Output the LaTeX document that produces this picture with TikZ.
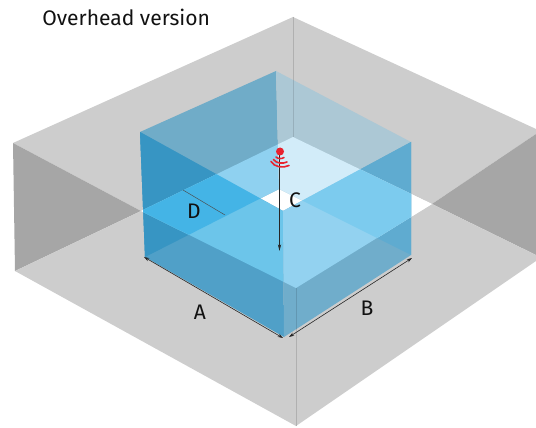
\documentclass[tikz,border=0pt]{standalone}
\usepackage{fontspec}
\setmainfont{Fira Sans}
\usetikzlibrary{arrows.meta}
\definecolor{wallgray}{HTML}{CDCDCD}
\definecolor{walldark}{HTML}{A6A6A6}
\definecolor{cornergray}{HTML}{B0B0B0}
\definecolor{sigred}{HTML}{E8222E}
\definecolor{inktext}{HTML}{111111}
% cube colours over the grey walls
\definecolor{gBL}{HTML}{70ACC8}
\definecolor{gBR}{HTML}{ACC8D5}
\definecolor{gFL}{HTML}{50A0C8}
\definecolor{gFR}{HTML}{70ADCB}
\definecolor{gBLFL}{HTML}{3795C3}
\definecolor{gBRFR}{HTML}{5FABD0}
% cube colours over the white floor
\definecolor{wBL}{HTML}{8FD1F0}
\definecolor{wBR}{HTML}{D2ECF9}
\definecolor{wFL}{HTML}{6CC5EA}
\definecolor{wFR}{HTML}{93D2F0}
\definecolor{wBLFL}{HTML}{44B4E6}
\definecolor{wBRFR}{HTML}{7CCBEE}
\tikzset{
  x=0.75pt,y=-0.75pt,
  lab/.style={font=\fontsize{15.8}{18}\selectfont,text=inktext,inner sep=0pt},
  dim/.style={draw=black!85,line width=0.45pt,{Stealth[length=4pt,width=2.6pt]}-{Stealth[length=4pt,width=2.6pt]}},
  drop/.style={draw=black!85,line width=0.5pt,-{Stealth[length=5pt,width=2.4pt]}},
  wave/.style={draw=sigred,line width=1.2pt,line cap=round}
}
\newcommand{\faceBL}{(tl) -- (tb) -- (bb) -- (bl) -- cycle}
\newcommand{\faceBR}{(tb) -- (tr) -- (br) -- (bb) -- cycle}
\newcommand{\faceFL}{(tl) -- (tf) -- (bf) -- (bl) -- cycle}
\newcommand{\faceFR}{(tf) -- (tr) -- (br) -- (bf) -- cycle}
\newcommand{\paintcube}[1]{%
  \fill[#1BL] \faceBL;
  \fill[#1BR] \faceBR;
  \fill[#1FL] \faceFL;
  \fill[#1FR] \faceFR;
  \begin{scope}\clip \faceFL; \fill[#1BLFL] \faceBL;\end{scope}
  \begin{scope}\clip \faceFR; \fill[#1BRFR] \faceBR;\end{scope}
}
\begin{document}
\begin{tikzpicture}
\useasboundingbox (0,0) rectangle (536,428);
\clip (0,0) rectangle (536,428);
% room
\coordinate (rt) at (293,17);
\coordinate (rl) at (13,143);
\coordinate (rll) at (15,271);
\coordinate (rb) at (296,426);
\coordinate (rr) at (536,129);
\coordinate (rd) at (536,134);
\coordinate (rdl) at (536,255);
\coordinate (rrl) at (536,261);
\coordinate (fb) at (293,137);
\coordinate (fl) at (141,211);
\coordinate (ff) at (296,288);
\coordinate (fr) at (432,204);
% cube corners
\coordinate (tb) at (276,71);
\coordinate (tl) at (140,132);
\coordinate (tr) at (411,142);
\coordinate (tf) at (283,211);
\coordinate (bb) at (279,189);
\coordinate (bl) at (145,257);
\coordinate (br) at (411,255);
\coordinate (bf) at (284,337);
\fill[wallgray] (rt) -- (rl) -- (fl) -- (fb) -- cycle;
\fill[wallgray] (rt) -- (rr) -- (rd) -- (fr) -- (fb) -- cycle;
\fill[walldark] (rl) -- (rll) -- (fl) -- cycle;
\fill[walldark] (rd) -- (rdl) -- (fr) -- cycle;
\fill[wallgray] (rll) -- (fl) -- (ff) -- (rb) -- cycle;
\fill[wallgray] (rb) -- (ff) -- (fr) -- (rdl) -- (rrl) -- cycle;
\fill[white] (fb) -- (fl) -- (ff) -- (fr) -- cycle;
\draw[cornergray,line width=0.75pt] (rt) -- (fb);
\draw[cornergray,line width=0.75pt] (ff) -- (rb);
% cube over the walls, then over the floor
\paintcube{g}
\begin{scope}
  \clip (fb) -- (fl) -- (ff) -- (fr) -- cycle;
  \paintcube{w}
\end{scope}
% room corners seen through the cube
\begin{scope}
  \clip \faceBR;
  \draw[black,opacity=0.12,line width=0.75pt] (rt) -- (fb);
\end{scope}
\begin{scope}
  \clip \faceFR;
  \draw[black,opacity=0.12,line width=0.75pt] (ff) -- (rb);
\end{scope}
% dimensions
\coordinate (aa) at (144,257);
\coordinate (ab) at (283,338);
\coordinate (ba) at (289,337);
\coordinate (bc) at (412,258);
\draw[dim] (aa) -- (ab);
\draw[dim] (ba) -- (bc);
\coordinate (da) at (183,190);
\coordinate (db) at (225,215);
\draw[black!70,line width=0.35pt] (da) -- (db);
% sensor
\coordinate (sa) at (279.5,152);
\coordinate (sb) at (279.5,251);
\draw[drop] (sa) -- (sb);
\fill[sigred] (280,151.5) circle (3pt);
\draw[wave] (276,157) .. controls (278,159) and (282,159) .. (284,157.5);
\draw[wave] (273.5,159.5) .. controls (276,163.5) and (283,164) .. (287,162);
\draw[wave] (271,161.5) .. controls (274,167) and (283,168.5) .. (289,165.5);
% labels
\node[lab,anchor=west] (title) at (42,17) {Overhead version};
\node[lab] (lA) at (200,312) {A};
\node[lab] (lB) at (367,308) {B};
\node[lab] (lC) at (295,200) {C};
\node[lab] (lD) at (194,211) {D};
\end{tikzpicture}
\end{document}
